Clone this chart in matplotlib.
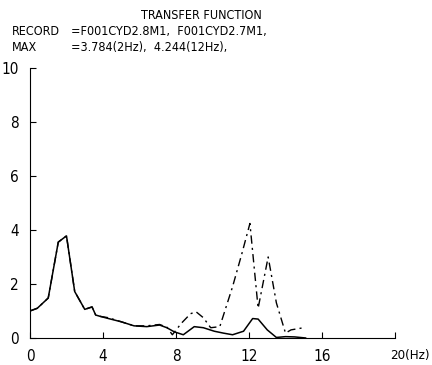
import matplotlib
matplotlib.use("Agg")
import matplotlib.pyplot as plt
import numpy as np

plt.rcParams['font.family'] = ['DejaVu Sans']
plt.rcParams['font.stretch'] = 'condensed'

# solid curve (F001CYD2.8M1)
freq_a = [0.0, 0.4, 1.0, 1.55, 2.0, 2.45, 3.0, 3.4, 3.6, 3.85, 4.3, 5.0, 5.7, 6.4, 7.1,
          7.5, 7.9, 8.4, 9.0, 9.5, 10.1, 10.6, 11.1, 11.7, 12.2, 12.5, 13.0, 13.5, 14.0, 14.5, 15.1]
amp_a = [1.0, 1.1, 1.48, 3.55, 3.78, 1.72, 1.06, 1.15, 0.85, 0.8, 0.72, 0.6, 0.45, 0.42, 0.48,
         0.38, 0.23, 0.12, 0.42, 0.38, 0.25, 0.18, 0.12, 0.25, 0.72, 0.7, 0.3, 0.02, 0.05, 0.04, 0.0]

# dash-dot curve (F001CYD2.7M1)
freq_b = [0.0, 0.4, 1.0, 1.55, 2.0, 2.45, 3.0, 3.4, 3.6, 3.85, 4.3, 5.0, 5.7, 6.4, 7.1,
          7.5, 7.8, 8.3, 8.8, 9.1, 9.5, 9.9, 10.4, 11.1, 11.6, 12.05, 12.5, 13.05, 13.5, 14.0, 14.3, 14.9]
amp_b = [1.0, 1.1, 1.48, 3.55, 3.78, 1.72, 1.06, 1.15, 0.85, 0.8, 0.75, 0.6, 0.45, 0.45, 0.5,
         0.4, 0.12, 0.55, 0.9, 0.97, 0.75, 0.38, 0.42, 1.9, 3.1, 4.24, 1.1, 3.0, 1.3, 0.18, 0.3, 0.37]

xticks = [0, 4, 8, 12, 16, 20]
xlabels = ['0', '4', '8', '12', '16', '']
yticks = [0, 2, 4, 6, 8, 10]

fig = plt.figure(figsize=(4.32, 3.65), dpi=100)
ax = fig.add_axes([0.0694, 0.074, 0.845, 0.74])

ax.plot(freq_a, amp_a, color='black', lw=1.1)
ax.plot(freq_b, amp_b, color='black', lw=1.0, linestyle=(0, (6, 3, 1.5, 3)))

ax.set_xlim(0, 20)
ax.set_ylim(0, 10)
ax.spines['top'].set_visible(False)
ax.spines['right'].set_visible(False)
ax.set_xticks(xticks)
ax.set_xticklabels(xlabels)
ax.set_yticks(yticks)
ax.tick_params(direction='in', length=4, labelsize=11, pad=8)
ax.annotate('20(Hz)', xy=(20, 0), xycoords=('data', 'axes fraction'),
            xytext=(-5, -11), textcoords='offset pixels', ha='left', va='top', fontsize=9.5)

fig.text(0.465, 0.958, 'TRANSFER FUNCTION', ha='center', va='center', fontsize=9)
fig.text(0.028, 0.913, 'RECORD', ha='left', va='center', fontsize=9)
fig.text(0.165, 0.913, '=F001CYD2.8M1,  F001CYD2.7M1,', ha='left', va='center', fontsize=9)
fig.text(0.028, 0.87, 'MAX', ha='left', va='center', fontsize=9)
fig.text(0.165, 0.87, '=3.784(2Hz),  4.244(12Hz),', ha='left', va='center', fontsize=9)

fig.savefig('out.png', dpi=100, facecolor='white')
